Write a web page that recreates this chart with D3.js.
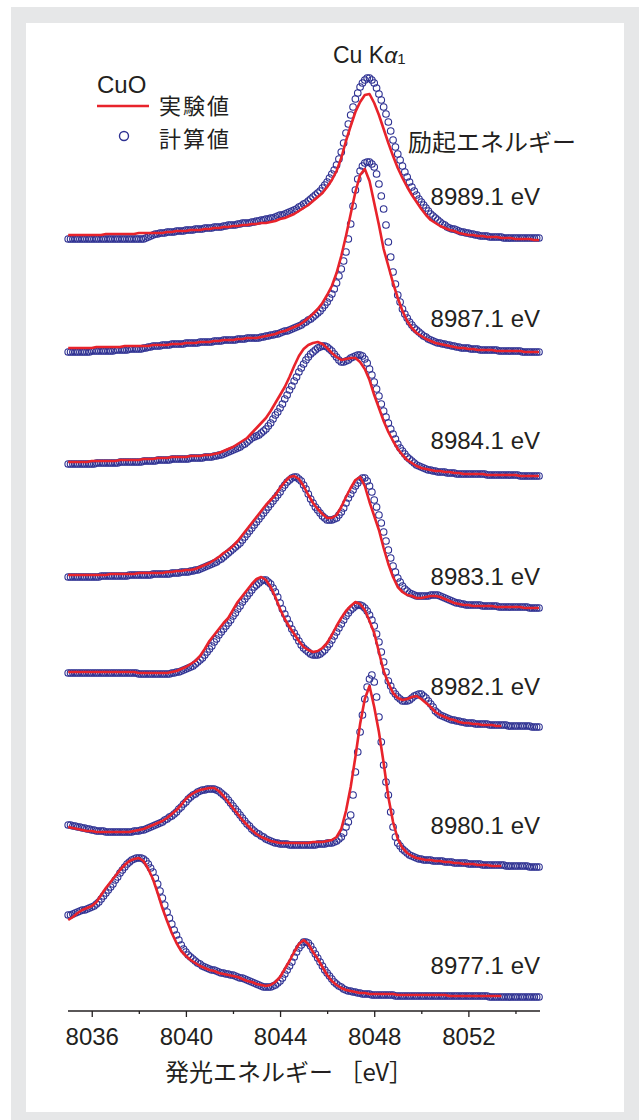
<!DOCTYPE html>
<html>
<head>
<meta charset="utf-8">
<script src="https://cdn.jsdelivr.net/npm/d3@7"></script>
<style>
  body { margin: 0; background: #fff; }
  svg { display: block; }
</style>
</head>
<body>
<div id="chart"></div>
<script>
// Emission energy grid of the measured spectra (eV), every 0.2 eV
const expEnergies = [
  8035.0, 8035.2, 8035.4, 8035.6, 8035.8, 8036.0, 8036.2, 8036.4, 8036.6, 8036.8,
  8037.0, 8037.2, 8037.4, 8037.6, 8037.8, 8038.0, 8038.2, 8038.4, 8038.6, 8038.8,
  8039.0, 8039.2, 8039.4, 8039.6, 8039.8, 8040.0, 8040.2, 8040.4, 8040.6, 8040.8,
  8041.0, 8041.2, 8041.4, 8041.6, 8041.8, 8042.0, 8042.2, 8042.4, 8042.6, 8042.8,
  8043.0, 8043.2, 8043.4, 8043.6, 8043.8, 8044.0, 8044.2, 8044.4, 8044.6, 8044.8,
  8045.0, 8045.2, 8045.4, 8045.6, 8045.8, 8046.0, 8046.2, 8046.4, 8046.6, 8046.8,
  8047.0, 8047.2, 8047.4, 8047.6, 8047.8, 8048.0, 8048.2, 8048.4, 8048.6, 8048.8,
  8049.0, 8049.2, 8049.4, 8049.6, 8049.8, 8050.0, 8050.2, 8050.4, 8050.6, 8050.8,
  8051.0, 8051.2, 8051.4, 8051.6, 8051.8, 8052.0, 8052.2, 8052.4, 8052.6, 8052.8,
  8053.0, 8053.2, 8053.4, 8053.6, 8053.8, 8054.0, 8054.2, 8054.4, 8054.6, 8054.8,
  8055.0
];

// Emission energy grid of the calculated spectra (eV), every 0.1 eV
const calcEnergies = [
  8035.0, 8035.1, 8035.2, 8035.3, 8035.4, 8035.5, 8035.6, 8035.7, 8035.8, 8035.9,
  8036.0, 8036.1, 8036.2, 8036.3, 8036.4, 8036.5, 8036.6, 8036.7, 8036.8, 8036.9,
  8037.0, 8037.1, 8037.2, 8037.3, 8037.4, 8037.5, 8037.6, 8037.7, 8037.8, 8037.9,
  8038.0, 8038.1, 8038.2, 8038.3, 8038.4, 8038.5, 8038.6, 8038.7, 8038.8, 8038.9,
  8039.0, 8039.1, 8039.2, 8039.3, 8039.4, 8039.5, 8039.6, 8039.7, 8039.8, 8039.9,
  8040.0, 8040.1, 8040.2, 8040.3, 8040.4, 8040.5, 8040.6, 8040.7, 8040.8, 8040.9,
  8041.0, 8041.1, 8041.2, 8041.3, 8041.4, 8041.5, 8041.6, 8041.7, 8041.8, 8041.9,
  8042.0, 8042.1, 8042.2, 8042.3, 8042.4, 8042.5, 8042.6, 8042.7, 8042.8, 8042.9,
  8043.0, 8043.1, 8043.2, 8043.3, 8043.4, 8043.5, 8043.6, 8043.7, 8043.8, 8043.9,
  8044.0, 8044.1, 8044.2, 8044.3, 8044.4, 8044.5, 8044.6, 8044.7, 8044.8, 8044.9,
  8045.0, 8045.1, 8045.2, 8045.3, 8045.4, 8045.5, 8045.6, 8045.7, 8045.8, 8045.9,
  8046.0, 8046.1, 8046.2, 8046.3, 8046.4, 8046.5, 8046.6, 8046.7, 8046.8, 8046.9,
  8047.0, 8047.1, 8047.2, 8047.3, 8047.4, 8047.5, 8047.6, 8047.7, 8047.8, 8047.9,
  8048.0, 8048.1, 8048.2, 8048.3, 8048.4, 8048.5, 8048.6, 8048.7, 8048.8, 8048.9,
  8049.0, 8049.1, 8049.2, 8049.3, 8049.4, 8049.5, 8049.6, 8049.7, 8049.8, 8049.9,
  8050.0, 8050.1, 8050.2, 8050.3, 8050.4, 8050.5, 8050.6, 8050.7, 8050.8, 8050.9,
  8051.0, 8051.1, 8051.2, 8051.3, 8051.4, 8051.5, 8051.6, 8051.7, 8051.8, 8051.9,
  8052.0, 8052.1, 8052.2, 8052.3, 8052.4, 8052.5, 8052.6, 8052.7, 8052.8, 8052.9,
  8053.0, 8053.1, 8053.2, 8053.3, 8053.4, 8053.5, 8053.6, 8053.7, 8053.8, 8053.9,
  8054.0, 8054.1, 8054.2, 8054.3, 8054.4, 8054.5, 8054.6, 8054.7, 8054.8, 8054.9,
  8055.0
];

// Excitation energies (top to bottom) and vertical offsets of each spectrum (a.u.)
const excitationLabels = ["8989.1 eV", "8987.1 eV", "8984.1 eV", "8983.1 eV", "8982.1 eV", "8980.1 eV", "8977.1 eV"];
const offsets = [771, 659, 535, 403, 284, 144, 14];

// 実験値 (red line): intensities above the offset on expEnergies
const exp8989 = [
  5,5,5,5,5,5,5,5,6,6, 6,6,6,6,6,7,7,7,7,7, 7,8,8,9,9,9,10,10,10,11,
  11,12,12,13,13,14,14,15,15,16, 16,17,17,18,19,21,22,24,26,29,
  32,35,39,43,47,53,60,69,82,99, 114,128,138,145,146,137,125,111,97,84,
  72,62,53,45,38,31,25,20,17,14, 12,10,9,7,6,5,5,4,4,3, 3,3,2,2,2,1,1,1,1,0,0
];
const exp8987 = [
  4,4,4,4,4,4,5,5,5,5, 5,5,6,6,6,6,6,6,7,7, 7,7,8,8,8,9,9,9,10,10,
  10,11,11,12,12,12,13,13,14,14, 14,15,16,17,18,20,21,23,25,27,
  30,34,38,43,49,57,66,79,96,116, 138,160,177,183,171,149,127,103,86,69,
  54,41,31,24,19,16,13,11,9,8, 7,6,5,4,4,3,3,2,2,2, 2,1,1,1,1,1,1,0,0,0,0
];
const exp8984 = [
  14,14,14,14,14,15,15,15,15,15, 15,16,16,16,16,16,17,17,17,18, 18,18,19,19,19,19,20,20,20,21,
  21,22,23,25,27,29,32,35,38,43, 48,53,58,65,73,81,89,99,110,120,
  127,131,133,134,132,128,123,119,116,117, 118,118,114,107,96,81,68,55,44,35,
  27,21,16,13,10,8,7,6,5,5, 4,4,3,3,2,2,2,2,2,1, 1,1,1,1,1,1,0,0,0,0,0
];
const exp8983 = [
  33,33,33,33,33,33,33,33,33,34, 34,34,34,34,34,35,35,35,35,35, 35,36,36,37,37,38,38,39,41,43,
  45,48,51,55,58,62,67,73,79,85, 91,97,103,108,113,120,126,131,132,129,
  122,113,105,99,94,90,90,93,101,111, 120,128,131,122,106,92,78,60,44,31,
  21,16,13,12,10,10,11,12,12,11, 9,7,5,4,3,3,2,2,2,2, 2,1,1,1,1,1,1,0,0,0,0
];
const exp8982 = [
  55,55,55,55,55,55,55,55,55,55, 55,55,55,55,55,54,54,54,54,54, 54,54,55,56,58,60,63,66,71,78,
  86,92,98,104,109,117,125,131,137,143, 148,150,147,140,130,118,108,100,93,86,
  80,77,75,76,79,84,92,101,109,116, 121,125,123,117,106,94,75,56,44,34,
  29,27,28,30,31,28,24,20,15,12, 10,8,7,5,4,4,3,3,2,2, 2,1,1,null,null,null,null,null,null,null,null
];
const exp8980 = [
  40,39,38,37,36,36,35,35,35,35, 35,35,35,35,36,37,38,40,42,44, 46,49,53,57,62,68,72,75,77,78,
  79,79,76,71,65,59,53,47,42,37, 33,30,28,26,25,24,24,24,24,24,
  24,24,25,25,25,26,27,30,38,56, 80,110,143,168,181,160,135,104,70,45,
  28,19,14,11,9,8,7,7,6,6, 5,5,4,4,3,3,3,2,2,2, 1,1,1,null,null,null,null,null,null,null,null
];
const exp8977 = [
  77,80,84,87,89,91,95,102,109,115, 121,127,132,136,138,139,136,128,118,104, 89,76,64,54,46,41,37,34,31,29,
  27,26,24,23,22,21,20,18,16,15, 13,12,11,12,15,20,28,36,45,53,
  57,53,45,38,30,22,16,12,9,7, 6,5,4,4,3,3,3,3,3,3,
  2,2,2,2,2,2,2,2,2,2, 2,1,1,1,1,1,1,1,1,1, 1,1,1,null,null,null,null,null,null,null,null
];

// 計算値 (open circles): intensities above the offset on calcEnergies
const calc8989 = [
  1,1,1,1,1,1,1,1,1,1,1,1,1,1,1,1,1,1,1,1,
  1,1,1,1,1,1,1,1,1,1,1,1,1,2,3,4,5,6,6,7,
  7,7,8,8,8,8,9,9,9,9,10,10,10,10,11,11,11,11,12,12,
  12,12,13,13,13,13,14,14,15,15,15,15,16,16,17,17,17,17,18,18,
  19,19,20,20,21,21,22,22,23,24,25,25,26,27,28,29,30,31,33,34,
  36,37,39,41,43,45,47,49,52,55,58,62,66,70,75,81,88,97,107,116,
  125,133,141,147,153,157,160,162,162,160,157,152,146,140,133,126,118,109,100,93,
  86,80,74,68,63,58,53,49,45,41,38,35,32,29,26,24,22,20,18,16,
  15,13,12,11,11,10,9,8,8,7,7,6,6,5,5,4,4,4,4,3,
  3,3,3,3,3,2,2,2,2,2,2,2,2,2,2,2,2,2,2,2,
  2
];
const calc8987 = [
  0,0,0,0,0,0,0,0,0,0,1,1,1,1,1,1,1,1,1,1,
  2,2,2,2,2,2,3,3,3,3,3,3,4,4,5,5,6,6,6,6,
  7,7,7,7,8,8,8,8,8,8,9,9,9,9,9,9,10,10,10,10,
  10,10,11,11,11,11,12,12,12,12,12,12,13,13,13,13,14,14,14,14,
  14,14,15,15,16,16,17,17,18,18,19,20,21,21,22,23,24,25,26,27,
  29,30,32,33,35,37,39,41,44,47,50,54,58,63,69,76,83,91,100,113,
  128,146,162,173,181,186,189,190,190,188,185,178,168,156,143,127,110,95,80,68,
  57,50,43,38,34,30,27,24,22,20,18,16,15,13,12,11,10,9,9,8,
  8,7,7,6,6,5,5,4,4,4,4,3,3,3,3,2,2,2,2,2,
  2,2,2,1,1,1,1,1,1,1,1,1,1,0,0,0,0,0,0,0,
  0
];
const calc8984 = [
  12,12,12,12,12,12,12,12,12,12,12,12,13,13,13,13,13,13,13,13,
  13,13,14,14,14,14,14,14,14,14,14,14,15,15,15,15,15,15,16,16,
  16,16,16,16,17,17,17,17,17,17,17,17,18,18,18,18,18,18,19,19,
  19,19,20,20,21,21,22,23,24,25,26,27,28,29,31,32,34,36,38,39,
  40,41,43,45,47,50,53,57,61,64,68,72,77,81,86,90,95,99,104,108,
  112,116,119,122,124,126,128,129,130,130,129,127,125,122,119,116,114,114,115,116,
  118,119,120,121,121,120,117,113,107,101,94,87,80,72,65,59,53,47,42,37,
  32,28,25,22,19,17,15,13,11,10,9,8,7,6,6,5,5,4,4,4,
  4,3,3,3,3,2,2,2,2,2,2,2,2,2,2,2,2,2,1,1,
  1,1,1,1,1,1,1,1,1,1,1,1,0,0,0,0,0,0,0,0,
  0
];
const calc8983 = [
  31,31,31,31,31,31,31,31,31,31,31,31,31,31,32,32,32,32,32,32,
  32,32,32,32,32,32,33,33,33,33,33,33,33,33,33,33,34,34,34,34,
  34,34,34,34,35,35,35,35,36,36,36,36,37,37,38,38,39,40,41,42,
  43,44,45,46,48,49,51,53,55,57,59,61,63,65,68,71,74,77,80,83,
  86,89,92,95,98,101,104,107,110,113,116,120,123,126,128,130,131,131,129,127,
  123,119,114,109,105,101,98,95,92,90,88,88,88,89,90,93,96,100,105,110,
  114,118,122,125,128,130,130,127,122,116,108,101,93,85,76,67,58,50,42,36,
  30,26,22,19,17,15,14,13,12,12,12,12,12,12,13,13,13,13,12,11,
  10,9,8,7,6,5,5,4,4,3,3,3,3,3,3,3,2,2,2,2,
  2,2,2,1,1,1,1,1,1,1,1,1,1,1,1,1,0,0,0,0,
  0
];
const calc8982 = [
  54,54,54,54,54,54,54,54,54,54,54,54,54,54,54,54,54,54,54,54,
  54,54,54,54,54,54,54,54,54,54,53,53,53,53,53,53,53,53,53,53,
  53,53,53,53,54,54,55,55,56,57,58,59,60,61,63,65,67,69,72,75,
  78,81,85,88,92,95,98,101,104,107,111,114,118,121,125,128,131,134,137,140,
  142,144,146,147,147,145,143,139,135,130,124,118,113,108,103,98,94,90,86,82,
  79,77,75,73,72,72,72,73,75,77,80,83,87,91,95,99,103,107,111,114,
  117,119,121,122,122,121,119,116,112,107,101,93,85,75,65,55,46,41,36,33,
  30,28,26,26,26,27,29,31,32,33,33,31,29,26,23,20,16,14,12,11,
  10,9,8,7,7,6,6,5,5,4,4,4,4,3,3,3,3,3,3,2,
  2,2,2,2,2,2,2,1,1,1,1,1,1,1,1,1,1,0,0,0,
  0
];
const calc8980 = [
  42,42,41,41,40,40,39,39,38,38,37,37,36,36,36,36,35,35,35,35,
  35,35,35,35,35,35,35,35,36,36,36,37,37,38,39,40,41,42,43,44,
  45,47,48,50,51,53,55,58,60,63,65,68,70,72,73,75,76,77,77,78,
  78,78,78,77,76,74,72,70,67,64,61,58,55,52,49,46,43,41,38,36,
  34,33,31,30,28,27,26,25,24,24,23,23,23,23,22,22,22,22,22,22,
  22,22,22,22,22,22,23,23,23,23,24,24,24,25,26,28,30,34,40,45,
  52,72,95,115,135,152,168,180,188,192,185,170,150,125,102,85,72,55,40,30,
  24,21,18,16,14,12,11,10,9,8,8,7,7,7,7,6,6,6,6,6,
  5,5,5,5,4,4,4,4,4,4,3,3,3,3,3,3,2,2,2,2,
  2,2,2,2,2,2,1,1,1,1,1,1,1,1,1,1,0,0,0,0,
  0
];
const calc8977 = [
  82,82,83,84,85,86,87,87,88,89,90,91,93,95,98,101,104,107,110,113,
  117,120,124,127,130,133,135,137,138,139,139,139,138,136,133,129,125,119,113,106,
  99,92,85,79,73,67,62,57,52,48,45,42,40,38,36,34,33,31,30,29,
  28,27,27,26,25,24,24,23,23,22,22,21,20,19,19,18,17,16,15,14,
  13,12,11,10,10,10,10,11,12,14,16,19,23,27,31,35,40,45,49,52,
  55,55,54,51,47,43,39,35,31,27,24,21,18,15,13,11,10,8,7,6,
  6,5,5,4,4,3,3,3,3,2,2,2,2,2,2,2,2,2,2,1,
  1,1,1,1,1,1,1,1,1,1,1,1,1,1,1,1,1,1,1,1,
  1,1,1,1,1,1,1,1,1,1,1,1,1,1,1,1,1,1,1,0,
  0,0,0,0,0,0,0,0,0,0,0,0,0,0,0,0,0,0,0,0,
  0
];

const majorTicks = [8036, 8040, 8044, 8048, 8052];
const minorTicks = [8038, 8042, 8046, 8050, 8054];

// Spectra table built from the arrays above (top to bottom)
const expSeries = [exp8989, exp8987, exp8984, exp8983, exp8982, exp8980, exp8977];
const calcSeries = [calc8989, calc8987, calc8984, calc8983, calc8982, calc8980, calc8977];
const spectra = excitationLabels.map((label, k) => ({
  label: label,
  offset: offsets[k],
  exp: expSeries[k],
  calc: calcSeries[k]
}));

// Layout
const W = 639, H = 1120;
const axisY = 1011;
const labelY = [205, 327, 449, 585, 695, 834, 974];   // baselines of the energy labels
const RED = "#e8232b", BLUE = "#2e3192", INK = "#231f20";
const latin = "'Liberation Sans', Arial, Helvetica, sans-serif";
const cjk = "'Noto Sans CJK JP', 'Noto Sans', sans-serif";

const svg = d3.select("#chart").append("svg")
  .attr("width", W)
  .attr("height", H);

// Frame: gray border and white panel
svg.append("rect").attr("x", 11).attr("y", 7).attr("width", W - 11).attr("height", H - 7).attr("fill", "#e6e7e8");
svg.append("rect").attr("x", 26).attr("y", 23).attr("width", 598).attr("height", 1089).attr("fill", "#fff");

// Scales
const x = d3.scaleLinear().domain([8035, 8055]).range([68.2, 539]);
const y = d3.scaleLinear().domain([0, 950]).range([axisY, 61]);

const line = d3.line()
  .defined(d => d.v != null)
  .x(d => x(d.e))
  .y(d => y(d.v));

const plot = svg.append("g");

spectra.forEach((s, k) => {
  const calcPts = calcEnergies.map((e, i) => ({ e: e, v: s.calc[i] == null ? null : s.calc[i] + s.offset }));
  const expPts = expEnergies.map((e, i) => ({ e: e, v: s.exp[i] == null ? null : s.exp[i] + s.offset }));

  // calculated values: open circles
  plot.append("g")
    .selectAll("circle")
    .data(calcPts.filter(d => d.v != null))
    .enter()
    .append("circle")
    .attr("cx", d => x(d.e))
    .attr("cy", d => y(d.v))
    .attr("r", 3.3)
    .attr("fill", "none")
    .attr("stroke", BLUE)
    .attr("stroke-width", 1.1);

  // experimental values: red line on top
  plot.append("path")
    .datum(expPts)
    .attr("d", line)
    .attr("fill", "none")
    .attr("stroke", RED)
    .attr("stroke-width", 2.6)
    .attr("stroke-linejoin", "round");

  // excitation energy label
  svg.append("text")
    .attr("x", 540)
    .attr("y", labelY[k])
    .attr("text-anchor", "end")
    .style("font-family", latin)
    .style("font-size", "24px")
    .attr("fill", INK)
    .text(s.label);
});

// X axis with major and minor ticks
const axisG = svg.append("g").attr("transform", `translate(0,${axisY})`);
axisG.call(d3.axisBottom(x).tickValues(majorTicks).tickSize(6).tickFormat(d3.format("d")));
axisG.select(".domain").attr("stroke", INK).attr("stroke-width", 1.3).attr("d", "M68,0H540");
axisG.selectAll(".tick line").attr("stroke", INK).attr("stroke-width", 1.3);
axisG.selectAll(".tick text")
  .attr("y", 34)
  .attr("dy", null)
  .attr("fill", INK)
  .style("font-family", latin)
  .style("font-size", "24px");

const minorG = svg.append("g").attr("transform", `translate(0,${axisY})`);
minorG.call(d3.axisBottom(x).tickValues(minorTicks).tickSize(3).tickFormat(""));
minorG.select(".domain").remove();
minorG.selectAll(".tick line").attr("stroke", INK).attr("stroke-width", 1.3);

// Axis title
svg.append("text")
  .attr("x", 165)
  .attr("y", 1081)
  .style("font-family", cjk)
  .style("font-size", "24px")
  .attr("fill", INK)
  .text("発光エネルギー ［eV］");

// Line title Cu Kα1
const kTitle = svg.append("text")
  .attr("x", 333)
  .attr("y", 63)
  .style("font-family", latin)
  .style("font-size", "23px")
  .attr("fill", INK);
kTitle.append("tspan").text("Cu K");
kTitle.append("tspan").style("font-style", "italic").text("α");
kTitle.append("tspan").style("font-size", "15px").attr("dy", 1).text("1");

// Excitation energy heading
svg.append("text")
  .attr("x", 408)
  .attr("y", 151)
  .style("font-family", cjk)
  .style("font-size", "24px")
  .attr("fill", INK)
  .text("励起エネルギー");

// Legend
svg.append("text")
  .attr("x", 97)
  .attr("y", 93)
  .style("font-family", latin)
  .style("font-size", "24px")
  .attr("fill", INK)
  .text("CuO");
svg.append("line")
  .attr("x1", 97).attr("x2", 149)
  .attr("y1", 106).attr("y2", 106)
  .attr("stroke", RED)
  .attr("stroke-width", 2.6);
svg.append("circle")
  .attr("cx", 124).attr("cy", 136).attr("r", 4.5)
  .attr("fill", "none")
  .attr("stroke", BLUE)
  .attr("stroke-width", 1.4);
svg.append("text")
  .attr("x", 159)
  .attr("y", 114)
  .style("font-family", cjk)
  .style("font-size", "22px")
  .style("letter-spacing", "2px")
  .attr("fill", INK)
  .text("実験値");
svg.append("text")
  .attr("x", 159)
  .attr("y", 147)
  .style("font-family", cjk)
  .style("font-size", "22px")
  .style("letter-spacing", "2px")
  .attr("fill", INK)
  .text("計算値");
</script>
</body>
</html>
